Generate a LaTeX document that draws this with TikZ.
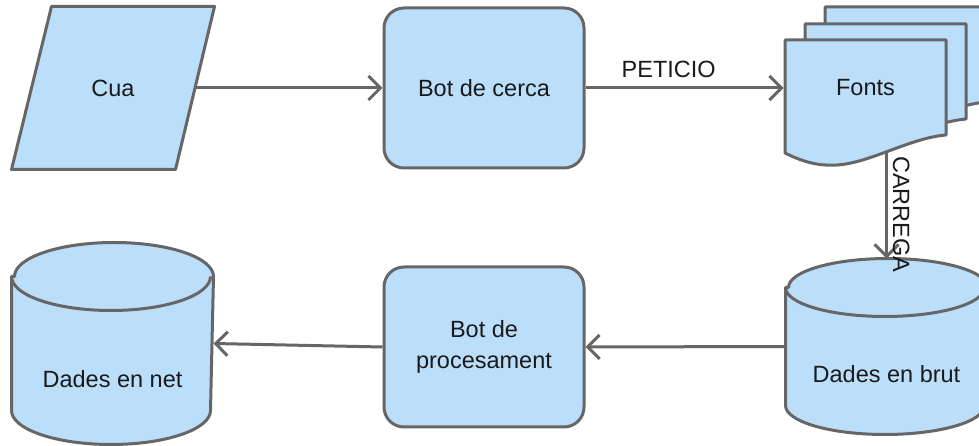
\documentclass[tikz,border=0pt]{standalone}
\usepackage{fontspec}
\setmainfont{Liberation Sans}
\usepackage{tikz}
\usetikzlibrary{arrows.meta, positioning, calc, backgrounds}

\definecolor{boxfill}{RGB}{187,222,251}
\definecolor{boxline}{RGB}{102,102,102}
\definecolor{boxtext}{RGB}{26,26,26}

\tikzset{
  base/.style={draw=boxline, fill=boxfill, text=boxtext, font=\fontsize{23.5}{31}\selectfont, align=center},
  io/.style={text=boxtext, font=\fontsize{23.5}{31}\selectfont, minimum width=200pt, minimum height=160pt},
  bot/.style={base, rectangle, rounded corners=20pt, minimum width=200pt, minimum height=160pt},
  doc/.style={text=boxtext, font=\fontsize{23.5}{31}\selectfont, minimum width=161pt, minimum height=96pt},
  db/.style={minimum width=199pt, inner sep=0pt},
  lbl/.style={text=boxtext, font=\fontsize{23.5}{31}\selectfont},
  wire/.style={line width=3pt, line join=round, draw=boxline}
}

\begin{document}
\begin{tikzpicture}[x=1pt, y=1pt, ->, >={Straight Barb[length=12pt, width=24pt]}, line width=3pt, line join=round, draw=boxline]
\useasboundingbox (0,0) rectangle (979,446);

\node[io] (cua) at (113,358) {Cua};
\node[bot] (cerca) at (484,358) {Bot de cerca};

% slanted queue box, with its arrow underneath
\begin{scope}[on background layer]
\draw[wire] (cua.center) -- (cerca.west);
\filldraw[wire, -, fill=boxfill] ($(cua.north west)+(40,0)$) -- (cua.north east) -- ($(cua.south east)-(39,0)$) -- (cua.south west) -- cycle;
\end{scope}

% fonts, back sheet first
\foreach \dx/\dy in {40/33, 20/16, 0/0}
  \filldraw[-, fill=boxfill, shift={(\dx,\dy)}] (785,406) -- (946,406) -- (946,311) .. controls (910,308) and (870,283) .. (837,281) .. controls (820,280) and (805,283) .. (785,293) -- cycle;
\node[doc] (fonts) at (865.5,358) {Fonts};

\node[bot] (proc) at (484,99) {Bot de\\procesament};

% databases
\node[db, minimum height=199pt] (dnet) at (112.5,102.5) {};
\node[db, minimum height=173pt] (dbrut) at (886.5,99.5) {};
\foreach \db/\ry in {dnet/34, dbrut/29} {
  \filldraw[-, fill=boxfill] ($(\db.north west)-(0,\ry)$) -- ($(\db.south west)+(0,\ry)$)
    arc[start angle=180, end angle=360, x radius=99.5, y radius=\ry]
    -- ($(\db.north east)-(0,\ry)$)
    arc[start angle=0, end angle=180, x radius=99.5, y radius=\ry] -- cycle;
  \draw[-] ($(\db.north west)-(0,\ry)$) arc[start angle=180, end angle=360, x radius=99.5, y radius=\ry];
}
\node[lbl] (dnet text) at ($(dnet)+(0,-36)$) {Dades en net};
\node[lbl] (dbrut text) at ($(dbrut)+(0,-27.5)$) {Dades en brut};

\coordinate (carrega start) at (886.5,293);

\draw (cerca.east) -- node[lbl, above=5pt, pos=0.42] {PETICIO} (fonts.west);
\draw (carrega start) -- node[lbl, pos=0.58, rotate=-90, anchor=south, inner sep=5pt] {CARREGA} (dbrut.north);
\draw (dbrut.west) -- (proc.east);
\draw (proc.west) -- (dnet.east);

\end{tikzpicture}
\end{document}
